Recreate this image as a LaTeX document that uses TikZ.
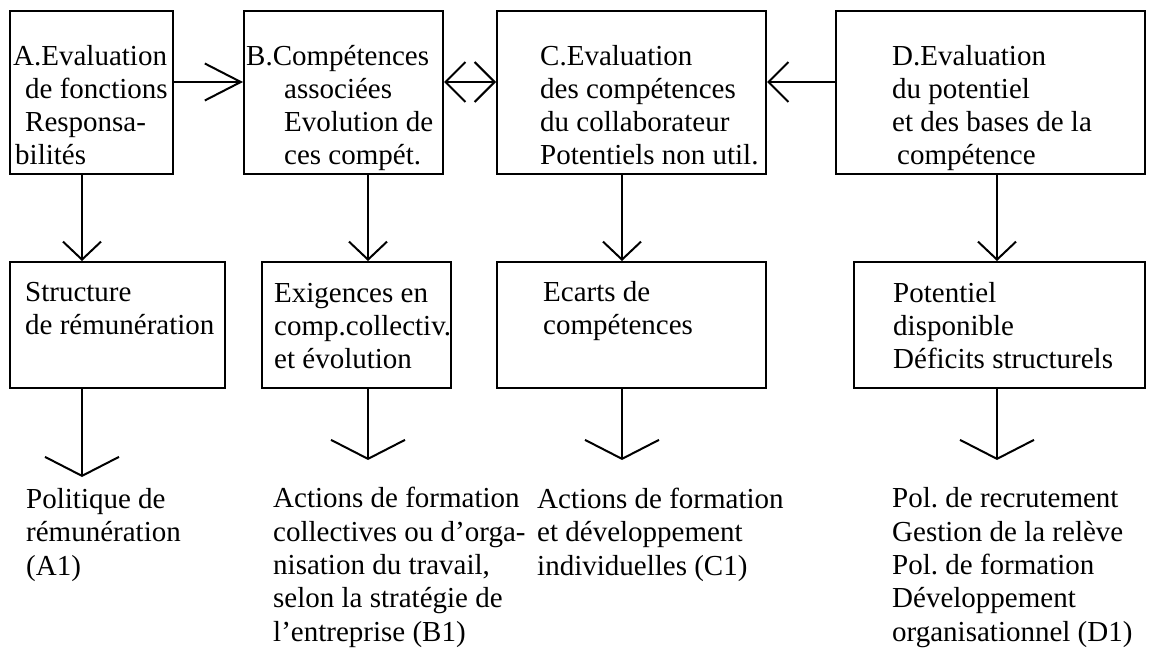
\documentclass[tikz,border=0pt]{standalone}
\usepackage{fontspec}
\setmainfont{Liberation Serif}
\usetikzlibrary{arrows.meta}
\frenchspacing
\tikzset{
  box/.style={draw,line width=2pt,inner sep=0pt,anchor=north west},
  lbl/.style={anchor=base west,align=left,inner sep=0pt,font=\fontsize{29}{33.3}\selectfont},
  longtip/.style={line width=2pt,-{Straight Barb[length=36pt,width=37pt]}},
  sidetip/.style={line width=2pt,-{Straight Barb[length=20pt,width=40pt]}},
  twotip/.style={line width=2pt,{Straight Barb[length=20pt,width=40pt]}-{Straight Barb[length=20pt,width=40pt]}},
  downtip/.style={line width=2pt,-{Straight Barb[length=18pt,width=38pt]}},
  droptip/.style={line width=2pt,-{Straight Barb[length=19pt,width=74pt]}}
}
\begin{document}
\begin{tikzpicture}[x=1pt,y=-1pt]
 \useasboundingbox (0,0) rectangle (1149,652);
 \coordinate (row) at (0,82);
 \coordinate (colA) at (82,0);
 \coordinate (colB) at (368,0);
 \coordinate (colC) at (622,0);
 \coordinate (colD) at (997,0);
 \coordinate (tipA) at (82,477);
 \coordinate (tipB) at (368,460);
 \coordinate (tipC) at (622,460);
 \coordinate (tipD) at (997,460);
 \node[box,minimum width=163,minimum height=163] (evalA) at (9,10) {};
 \node[box,minimum width=199,minimum height=163] (evalB) at (243,10) {};
 \node[box,minimum width=269,minimum height=163] (evalC) at (496,10) {};
 \node[box,minimum width=309,minimum height=163] (evalD) at (835,10) {};
 \node[box,minimum width=215,minimum height=126] (outA) at (9,261) {};
 \node[box,minimum width=189,minimum height=126] (outB) at (261,261) {};
 \node[box,minimum width=269,minimum height=126] (outC) at (496,261) {};
 \node[box,minimum width=291,minimum height=126] (outD) at (853,261) {};
 % multi-line labels sit on the baseline of their last line
 \node[lbl] (txtA) at (13,165) {A.Evaluation\\\hspace*{12pt}de fonctions\\\hspace*{12pt}Responsa-\\\hspace*{2pt}bilités};
 \node[lbl] (txtB) at (246,165) {B.Compétences\\\hspace*{38pt}associées\\\hspace*{38pt}Evolution de\\\hspace*{38pt}ces compét.};
 \node[lbl] (txtC) at (540,165) {C.Evaluation\\des compétences\\du collaborateur\\Potentiels non util.};
 \node[lbl] (txtD) at (892,165) {D.Evaluation\\du potentiel\\et des bases de la\\\hspace*{5pt}compétence};
 \node[lbl] (resA) at (25,335) {Structure\\de rémunération};
 \node[lbl] (resB) at (274,369) {Exigences en\\comp.collectiv.\\et évolution};
 \node[lbl] (resC) at (543,335) {Ecarts de\\compétences};
 \node[lbl] (resD) at (893,369) {Potentiel\\disponible\\Déficits structurels};
 \node[lbl] (polA) at (26,575) {Politique de\\rémunération\\(A1)};
 \node[lbl] (polB) at (273,641) {Actions de formation\\collectives ou d’orga-\\nisation du travail,\\selon la stratégie de\\l’entreprise (B1)};
 \node[lbl] (polC) at (537,575) {Actions de formation\\et développement\\individuelles (C1)};
 \node[lbl] (polD) at (892,641) {Pol. de recrutement\\Gestion de la relève\\Pol. de formation\\Développement\\organisationnel (D1)};
 \draw[longtip] (evalA.east |- row) -- (evalB.west |- row);
 \draw[twotip] (evalB.east |- row) -- (evalC.west |- row);
 \draw[sidetip] (evalD.west |- row) -- (evalC.east |- row);
 \foreach \c in {A,B,C,D}{
  \draw[downtip] (eval\c.south -| col\c) -- (out\c.north -| col\c);
  \draw[droptip] (out\c.south -| col\c) -- (tip\c);
 }
\end{tikzpicture}
\end{document}
